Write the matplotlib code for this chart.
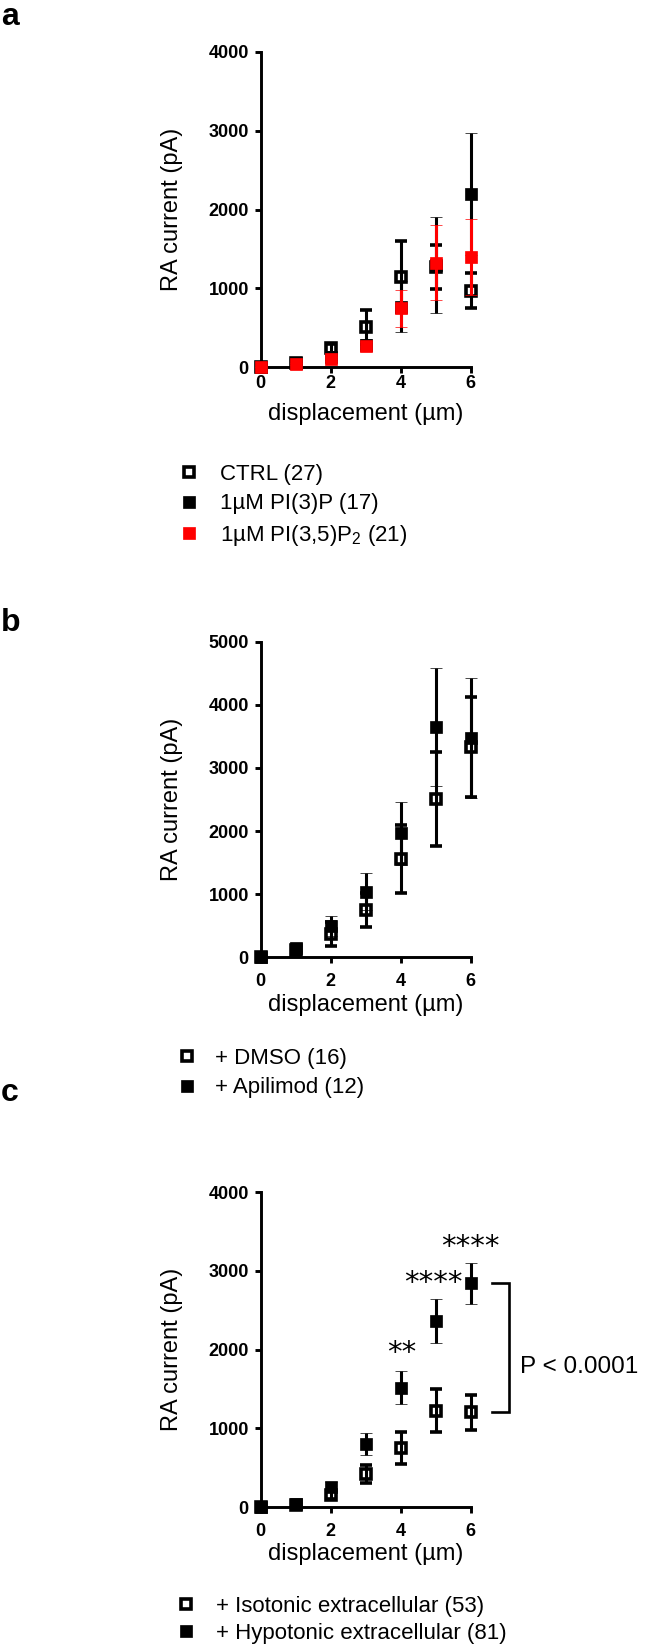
import matplotlib
matplotlib.use("Agg")
import matplotlib.pyplot as plt
from matplotlib.lines import Line2D

plt.rcParams['font.family'] = ['Liberation Sans', 'DejaVu Sans']
plt.rcParams['mathtext.fontset'] = 'custom'
plt.rcParams['mathtext.rm'] = 'Liberation Sans'
plt.rcParams['mathtext.default'] = 'regular'

# ---------------- data ----------------
disp = [0, 1, 2, 3, 4, 5, 6]

# panel a
ctrl_mean = [0, 50, 235, 512, 1148, 1270, 970]
ctrl_sem = [5, 15, 60, 215, 452, 280, 225]
pi3p_mean = [0, 55, 130, 280, 766, 1295, 2193]
pi3p_sem = [5, 15, 35, 70, 326, 605, 774]
pi35_mean = [0, 40, 100, 265, 745, 1325, 1393]
pi35_sem = [5, 10, 25, 55, 232, 480, 482]
legend_a = ['CTRL (27)', '1µM PI(3)P (17)', '1µM PI(3,5)P$_2$ (21)']

# panel b
dmso_mean = [0, 120, 370, 750, 1553, 2509, 3328]
dmso_sem = [10, 30, 185, 265, 540, 750, 790]
apil_mean = [0, 140, 490, 1040, 1965, 3655, 3470]
apil_sem = [10, 40, 160, 291, 500, 935, 950]
legend_b = ['+ DMSO (16)', '+ Apilimod (12)']

# panel c
iso_mean = [0, 30, 150, 419, 754, 1224, 1203]
iso_sem = [5, 10, 50, 120, 205, 270, 218]
hypo_mean = [0, 40, 260, 797, 1516, 2368, 2842]
hypo_sem = [5, 10, 60, 138, 210, 280, 265]
legend_c = ['+ Isotonic extracellular (53)', '+ Hypotonic extracellular (81)']
star_x = [4.03, 4.93, 6.0]
star_y = [1952, 2842, 3307]
star_txt = ['**', '****', '****']
p_text = 'P < 0.0001'

xticks = [0, 2, 4, 6]
yticks_a = [0, 1000, 2000, 3000, 4000]
yticks_b = [0, 1000, 2000, 3000, 4000, 5000]
yticks_c = [0, 1000, 2000, 3000, 4000]

# ---------------- layout ----------------
W, H = 645, 1647
fig = plt.figure(figsize=(W / 100, H / 100), dpi=100)


def rect(left, top, right, bottom):
    return [left / W, 1 - bottom / H, (right - left) / W, (bottom - top) / H]


RED = '#ff0000'
ELW = 2.2
CAP = 4.0


def series(ax, mean, sem, color, filled, z):
    if filled:
        kw = dict(ms=8.5, mfc=color, mec=color, mew=0.5)
    else:
        kw = dict(ms=7.8, mfc='white', mec=color, mew=2.6)
    eb = ax.errorbar(disp, mean, yerr=sem, fmt='s', color=color, ecolor=color,
                     elinewidth=ELW, capsize=CAP, capthick=ELW, zorder=z, **kw)
    eb[0].set_clip_on(False)
    for c in eb[1]:
        c.set_clip_on(False)
        c.set_zorder(z + 0.5)
    for b in eb[2]:
        b.set_clip_on(False)
        b.set_zorder(z + 0.5)
    return eb


def style(ax, yticks, ymax, xpad):
    ax.set_xlim(0, 6)
    ax.set_ylim(0, ymax)
    ax.set_xticks(xticks)
    ax.set_yticks(yticks)
    for s in ['top', 'right']:
        ax.spines[s].set_visible(False)
    for s in ['left', 'bottom']:
        ax.spines[s].set_linewidth(2.1)
    ax.tick_params(axis='both', direction='out', length=4.3, width=2.1,
                   labelsize=13)
    ax.tick_params(axis='y', pad=4.3)
    ax.tick_params(axis='x', pad=xpad)
    for lab in ax.get_xticklabels() + ax.get_yticklabels():
        lab.set_fontweight('bold')
    ax.set_ylabel('RA current (pA)', fontsize=17, va='center')
    ax.yaxis.set_label_coords(-0.424, 0.5)
    ax.set_xlabel('displacement (µm)', fontsize=17)
    ax.xaxis.set_label_coords(0.5, -0.115)


def handle(color, filled):
    if filled:
        return Line2D([], [], ls='none', marker='s', ms=8.5, mfc=color, mec=color, mew=0.5)
    return Line2D([], [], ls='none', marker='s', ms=7.8, mfc='white', mec=color, mew=2.6)


def legend(ax, handles, labels, x_px, top_px, pad, spacing=0.38):
    ax.legend(handles, labels, loc='upper left',
              bbox_to_anchor=(x_px / W, 1 - top_px / H),
              bbox_transform=fig.transFigure, frameon=False, fontsize=16,
              borderpad=0, borderaxespad=0, handlelength=0.8,
              handletextpad=pad, labelspacing=spacing, handleheight=0.7)


# ---- panel a ----
axa = fig.add_axes(rect(260.7, 52, 470.7, 367))
series(axa, ctrl_mean, ctrl_sem, 'black', False, 3)
series(axa, pi3p_mean, pi3p_sem, 'black', True, 4)
series(axa, pi35_mean, pi35_sem, RED, True, 5)
style(axa, yticks_a, 4000, 1.5)
legend(axa, [handle('black', False), handle('black', True), handle(RED, True)],
       legend_a, 180.1, 464, 1.0)

# ---- panel b ----
axb = fig.add_axes(rect(260.7, 641.7, 470.7, 957.3))
series(axb, dmso_mean, dmso_sem, 'black', False, 3)
series(axb, apil_mean, apil_sem, 'black', True, 4)
style(axb, yticks_b, 5000, 7)
legend(axb, [handle('black', False), handle('black', True)],
       legend_b, 177.8, 1048, 0.87)

# ---- panel c ----
axc = fig.add_axes(rect(260.7, 1192.3, 470.7, 1507))
series(axc, iso_mean, iso_sem, 'black', False, 3)
series(axc, hypo_mean, hypo_sem, 'black', True, 4)
style(axc, yticks_c, 4000, 7)
legend(axc, [handle('black', False), handle('black', True)],
       legend_c, 177.4, 1596, 0.95, spacing=0.28)

for sx, sy, st in zip(star_x, star_y, star_txt):
    axc.text(sx, sy, st, ha='center', va='center', fontsize=21,
             family='DejaVu Sans', clip_on=False)

# bracket between the two series at 6 µm
bx0, bx1 = 6.6, 7.09
axc.plot([bx0, bx1, bx1, bx0], [hypo_mean[6], hypo_mean[6], iso_mean[6], iso_mean[6]],
         color='black', lw=1.9, clip_on=False, solid_joinstyle='miter')
axc.text(7.41, (hypo_mean[6] + iso_mean[6]) / 2 - 240, p_text, ha='left', va='center',
         fontsize=17.5, clip_on=False)

# panel letters
for letter, base in [('a', 25), ('b', 631), ('c', 1101)]:
    fig.text(1 / W, 1 - base / H, letter, fontsize=23, fontweight='bold',
             ha='left', va='baseline')

fig.savefig('out.png', dpi=100)
